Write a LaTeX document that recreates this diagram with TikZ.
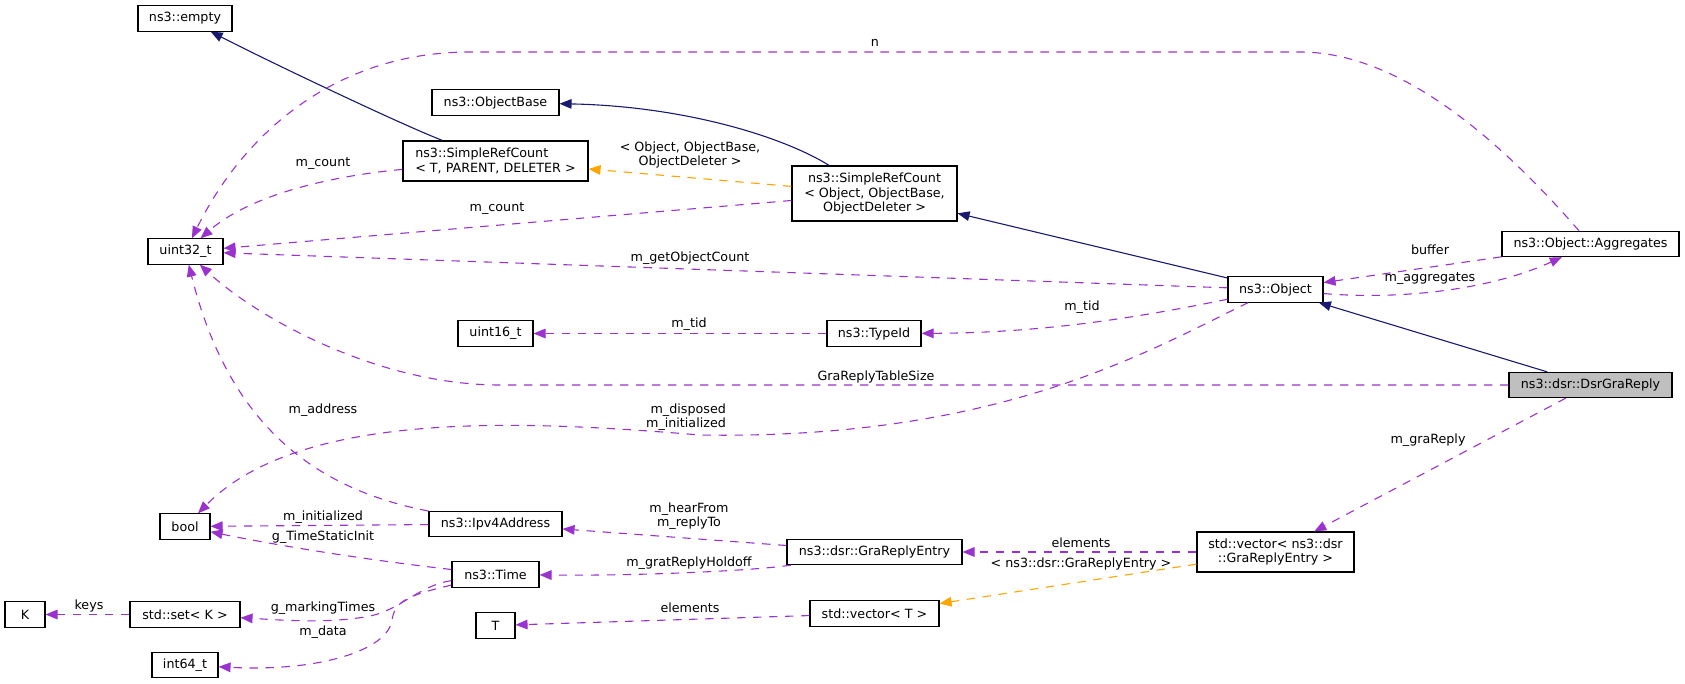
\documentclass[tikz,border=0pt]{standalone}
\usepackage{fontspec}
\setmainfont{DejaVu Sans}
\usetikzlibrary{arrows.meta}
\definecolor{cinh}{HTML}{191970}
\definecolor{cuse}{HTML}{9A32CD}
\definecolor{ctpl}{HTML}{FFA500}
\definecolor{cmain}{HTML}{BFBFBF}
\newcommand\gfont{\fontsize{6.35}{7.3}\selectfont}
\tikzset{%
  cls/.style={draw=black,fill=white,line width=0.55pt,inner sep=1pt,
    minimum width=#1*0.5pt,minimum height=12.6pt,align=center,font=\gfont},
  cls/.default=80,
  inhedge/.style={cinh,line width=0.55pt,-{Triangle[length=6pt,width=4.8pt]}},
  useedge/.style={cuse,line width=0.55pt,dash pattern=on 4.2pt off 3.8pt,
    -{Triangle[length=6pt,width=4.8pt]}},
  tmpledge/.style={ctpl,line width=0.55pt,dash pattern=on 4.2pt off 3.8pt,
    -{Triangle[length=6pt,width=4.8pt]}},
  lbl/.style={font=\gfont,inner sep=0pt,align=center}
}

\begin{document}
\begin{tikzpicture}[x=0.5pt,y=-0.5pt]
  \useasboundingbox (0,0) rectangle (1685,684);
  %% Classes
  \node[cls=94] (empty) at (185,18.5) {ns3::empty};
  \node[cls=127] (objbase) at (495.5,102.5) {ns3::ObjectBase};
  \node[cls=185,minimum height=20pt,align=left] (srct) at (495.5,161)
    {ns3::SimpleRefCount\\< T, PARENT, DELETER >};
  \node[cls=165,minimum height=27.5pt] (srco) at (874.5,193.5)
    {ns3::SimpleRefCount\\< Object, ObjectBase,\\ObjectDeleter >};
  \node[cls=75] (uint32) at (185.5,251.5) {uint32\_t};
  \node[cls=95] (object) at (1275.5,289.5) {ns3::Object};
  \node[cls=177] (aggr) at (1590.5,244) {ns3::Object::Aggregates};
  \node[cls=75] (uint16) at (495.5,333.5) {uint16\_t};
  \node[cls=94] (typeid) at (874,333.5) {ns3::TypeId};
  \node[cls=163,fill=cmain] (dsr) at (1590.5,385) {ns3::dsr::DsrGraReply};
  \node[cls=50] (bool) at (185,526.5) {bool};
  \node[cls=133] (ipv4) at (495.5,524) {ns3::Ipv4Address};
  \node[cls=175] (gre) at (874.5,552) {ns3::dsr::GraReplyEntry};
  \node[cls=157,minimum height=20pt] (vecdsr) at (1275.5,552)
    {std::vector< ns3::dsr\\::GraReplyEntry >};
  \node[cls=87] (time) at (495.5,574.5) {ns3::Time};
  \node[cls=40] (K) at (25,614.5) {K};
  \node[cls=110] (setk) at (185,614.5) {std::set< K >};
  \node[cls=39] (T) at (495.5,625.5) {T};
  \node[cls=129] (vect) at (874.5,613.5) {std::vector< T >};
  \node[cls=66] (int64) at (185,665) {int64\_t};
  %% Inheritance
  \draw[inhedge] (srct) .. controls (400,124) and (270,62) .. (empty);
  \draw[inhedge] (srco) .. controls (780,135) and (680,106) .. (objbase);
  \draw[inhedge] (object) -- (srco);
  \draw[inhedge] (dsr) -- (object);
  %% Templates
  \draw[tmpledge] (srco) -- (srct);
  \draw[tmpledge] (vecdsr) -- (vect);
  %% Members
  \draw[useedge] (aggr) .. controls (1500,140) and (1400,52) .. (1300,52)
    -- (470,52) .. controls (330,52) and (240,140) .. (uint32);
  \draw[useedge] (srct) .. controls (330,176) and (250,195) .. (uint32);
  \draw[useedge] (srco) -- (uint32);
  \draw[useedge] (object) -- (uint32);
  \draw[useedge] (aggr) -- (object);
  \draw[useedge] (object) .. controls (1400,300) and (1490,290) .. (aggr);
  \draw[useedge] (object) .. controls (1150,315) and (1050,333) .. (typeid);
  \draw[useedge] (typeid) -- (uint16);
  \draw[useedge] (object) .. controls (1150,350) and (1000,440) .. (700,435)
    .. controls (520,420) and (300,410) .. (bool);
  \draw[useedge] (ipv4) .. controls (320,490) and (230,430) .. (uint32);
  \draw[useedge] (dsr) -- (500,385) .. controls (380,385) and (260,320) .. (uint32);
  \draw[useedge] (dsr) -- (vecdsr);
  \draw[useedge] (vecdsr) -- (gre);
  \draw[useedge] (gre) -- (ipv4);
  \draw[useedge] (gre) .. controls (760,570) and (650,576) .. (time);
  \draw[useedge] (ipv4) -- (bool);
  \draw[useedge] (time) .. controls (350,558) and (260,542) .. (bool);
  \draw[useedge] (time) .. controls (420,585) and (400,610) .. (370,616)
    .. controls (330,624) and (280,620) .. (setk);
  \draw[useedge] (time) .. controls (410,595) and (395,600) .. (392,620)
    .. controls (388,650) and (320,672) .. (int64);
  \draw[useedge] (setk) -- (K);
  \draw[useedge] (vect) -- (T);
  %% Labels
  \node[lbl] (l-n) at (875,43) {n};
  \node[lbl] (l-cnt1) at (323,164) {m\_count};
  \node[lbl] (l-srco) at (690,155) {< Object, ObjectBase,\\ObjectDeleter >};
  \node[lbl] (l-cnt2) at (497,209) {m\_count};
  \node[lbl] (l-goc) at (690,258) {m\_getObjectCount};
  \node[lbl] (l-buf) at (1430,250) {buffer};
  \node[lbl] (l-aggr) at (1430,279) {m\_aggregates};
  \node[lbl] (l-tid1) at (1082,307) {m\_tid};
  \node[lbl] (l-tid2) at (689,324) {m\_tid};
  \node[lbl] (l-size) at (876,377) {GraReplyTableSize};
  \node[lbl,align=right] (l-disp) at (686,417) {m\_disposed\\m\_initialized};
  \node[lbl] (l-addr) at (323,410) {m\_address};
  \node[lbl] (l-gra) at (1428,440) {m\_graReply};
  \node[lbl] (l-hear) at (689,516) {m\_hearFrom\\m\_replyTo};
  \node[lbl] (l-elem1) at (1081,543) {elements};
  \node[lbl] (l-vecdsr) at (1081,564) {< ns3::dsr::GraReplyEntry >};
  \node[lbl] (l-hold) at (689,563) {m\_gratReplyHoldoff};
  \node[lbl] (l-init) at (323,517) {m\_initialized};
  \node[lbl] (l-tsi) at (323,537) {g\_TimeStaticInit};
  \node[lbl] (l-mark) at (323,608) {g\_markingTimes};
  \node[lbl] (l-data) at (323,632) {m\_data};
  \node[lbl] (l-keys) at (89,606) {keys};
  \node[lbl] (l-elem2) at (690,608) {elements};
\end{tikzpicture}
\end{document}
